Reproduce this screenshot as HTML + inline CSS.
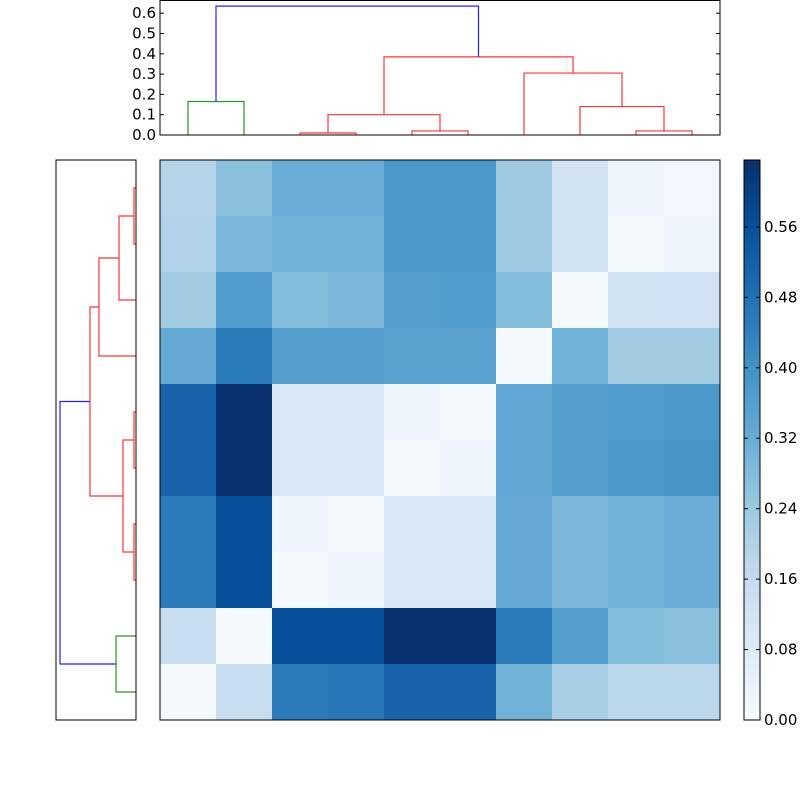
<!DOCTYPE html>
<html><head><meta charset="utf-8"><style>
body{margin:0;background:#fff}
svg{display:block;font-family:"DejaVu Sans","Liberation Sans",sans-serif}
</style></head><body>
<svg id="c" width="800" height="800" xmlns="http://www.w3.org/2000/svg"></svg>
<script>
const matrixValues = [
[0.19,0.27,0.32,0.32,0.38,0.38,0.24,0.12,0.03,0.02],
[0.20,0.29,0.31,0.31,0.38,0.38,0.24,0.12,0.01,0.03],
[0.23,0.37,0.28,0.29,0.36,0.37,0.28,0.01,0.12,0.13],
[0.33,0.45,0.36,0.36,0.35,0.35,0.01,0.31,0.23,0.23],
[0.51,0.63,0.10,0.10,0.03,0.01,0.34,0.36,0.37,0.38],
[0.51,0.63,0.10,0.10,0.01,0.03,0.34,0.36,0.38,0.39],
[0.45,0.56,0.03,0.01,0.10,0.10,0.33,0.29,0.31,0.32],
[0.45,0.56,0.01,0.03,0.10,0.10,0.33,0.29,0.31,0.32],
[0.15,0.01,0.56,0.56,0.63,0.63,0.45,0.36,0.28,0.27],
[0.01,0.15,0.45,0.46,0.51,0.51,0.31,0.22,0.18,0.18]];
const topMergeA = [2,4,8,10,7,0,6,13,15];
const topMergeB = [3,5,9,11,12,1,14,16,17];
const topMergeH = [0.01,0.02,0.02,0.10,0.14,0.165,0.305,0.385,0.635];
const topMergeColor = ["r","r","r","r","r","g","r","r","b"];
const leftMergeA = [0,4,6,10,11,8,13,16,17];
const leftMergeB = [1,5,7,2,12,9,3,14,15];
const leftMergeH = [0.017,0.017,0.017,0.142,0.109,0.167,0.31,0.385,0.636];
const leftMergeColor = ["r","r","r","r","r","g","r","r","b"];
const topTicks = [0.0,0.1,0.2,0.3,0.4,0.5,0.6];
const cbarTicks = [0.00,0.08,0.16,0.24,0.32,0.40,0.48,0.56];
const vmax = 0.636;

const svg=document.getElementById('c');
const NS="http://www.w3.org/2000/svg";
function mk(t,a,p){const e=document.createElementNS(NS,t);for(const k in a)e.setAttribute(k,a[k]);(p||svg).appendChild(e);return e;}
const stops=[[247,251,255],[222,235,247],[198,219,239],[158,202,225],[107,174,214],[66,146,198],[33,113,181],[8,81,156],[8,48,107]];
function blues(v){let t=Math.max(0,Math.min(1,v/vmax))*8;let i=Math.min(7,Math.floor(t)),f=t-i;const a=stops[i],b=stops[i+1];return `rgb(${a.map((x,j)=>Math.round(x+(b[j]-x)*f)).join(',')})`;}
const colMap={r:"#ff3333",g:"#229922",b:"#2222ff"};
// heatmap
const HX=160,HY=160,HW=560,HH=560,n=10,cw=HW/n,ch=HH/n;
const hg=mk('g',{});


matrixValues.forEach((row,r)=>row.forEach((v,c)=>{
 const e=mk('rect',{x:HX+c*cw,y:HY+r*ch,width:cw+0.5,height:ch+0.5,fill:blues(v)},hg);
 
 
}));
mk('rect',{x:HX,y:HY,width:HW,height:HH,fill:'none',stroke:'#000'});
// top dendrogram
const TX=160,TW=560,TY0=135,TS=203;
const tg=mk('g',{});


function dend(A,B,H,C,leafPos,hPos,horiz,g){
 const pos=[],ht=[];
 for(let i=0;i<n;i++){pos.push(leafPos(i));ht.push(0);}
 for(let k=0;k<A.length;k++){
  const a=A[k],b=B[k],h=H[k];
  const p1=pos[a],p2=pos[b],h1=hPos(ht[a]),h2=hPos(ht[b]),hh=hPos(h);
  let pts=horiz?`${h1},${p1} ${hh},${p1} ${hh},${p2} ${h2},${p2}`:`${p1},${h1} ${p1},${hh} ${p2},${hh} ${p2},${h2}`;
  const e=mk('polyline',{points:pts,fill:'none',stroke:colMap[C[k]],'stroke-width':1.2},g);
  
  
  pos.push((p1+p2)/2);ht.push(h);
 }
}
dend(topMergeA,topMergeB,topMergeH,topMergeColor,i=>TX+cw/2+i*cw,h=>TY0-h*TS,false,tg);
mk('rect',{x:TX,y:0.5,width:TW,height:TY0-0.5,fill:'none',stroke:'#000'});
topTicks.forEach(t=>{
 const y=TY0-t*TS;
 mk('line',{x1:TX,x2:TX+4,y1:y,y2:y,stroke:'#000'});
 mk('line',{x1:TX+TW-4,x2:TX+TW,y1:y,y2:y,stroke:'#000'});
 const e=mk('text',{x:TX-4,y:y+5,'text-anchor':'end','font-size':15});
 e.textContent=t.toFixed(1);
 
 
});
// left dendrogram
const LX0=136,LS=119.5;
const lg=mk('g',{});


dend(leftMergeA,leftMergeB,leftMergeH,leftMergeColor,i=>HY+ch/2+i*ch,h=>LX0-h*LS,true,lg);
mk('rect',{x:56,y:HY,width:80,height:HH,fill:'none',stroke:'#000'});
// colorbar
const CX=744,CW=16,CY=160,CH=560;
const defs=mk('defs',{});
const grad=mk('linearGradient',{id:'gr',x1:0,y1:1,x2:0,y2:0},defs);
stops.forEach((s,i)=>mk('stop',{offset:i/8,'stop-color':`rgb(${s.join(',')})`},grad));
const cb=mk('rect',{x:CX,y:CY,width:CW,height:CH,fill:'url(#gr)',stroke:'#000'});


cbarTicks.forEach(t=>{
 const y=CY+CH-t/vmax*CH;
 mk('line',{x1:CX+CW-4,x2:CX+CW,y1:y,y2:y,stroke:'#000'});
 mk('line',{x1:CX,x2:CX+4,y1:y,y2:y,stroke:'#000'});
 const e=mk('text',{x:CX+CW+4,y:y+5,'font-size':15});
 e.textContent=t.toFixed(2);
 
 
});
</script>
</body></html>
